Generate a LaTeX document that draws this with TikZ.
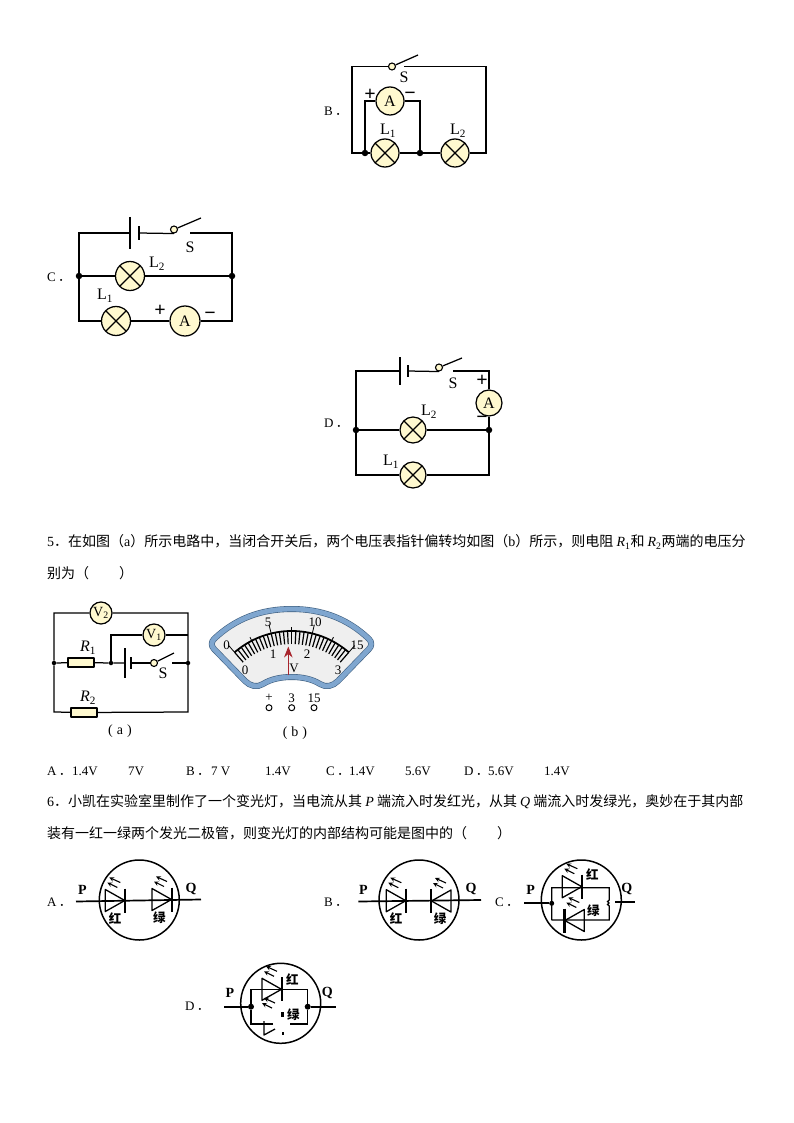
\documentclass[tikz,border=0pt]{standalone}
\usepackage{fontspec}
\setmainfont{Liberation Serif}
\newfontfamily\cjk{Noto Sans CJK SC}
\usetikzlibrary{arrows.meta}
\definecolor{lampfill}{HTML}{FFF9CF}
\definecolor{dialblue}{HTML}{7FA6CF}
\definecolor{dialedge}{HTML}{3F5F80}
\definecolor{dialface}{HTML}{EFEFEF}
\definecolor{pointerred}{HTML}{A8242C}
\newcommand{\resR}[1]{\textrm{\textit{R}\textsubscript{#1}}}
\tikzset{
	wire/.style={line width=1.25pt, line join=miter},
	heavy/.style={line width=1.7pt},
	plate/.style={line width=1.25pt},
	lamp/.style={circle, draw, line width=1.25pt, fill=lampfill, inner sep=0pt, minimum size=#1,
		path picture={\draw[line width=1.25pt] (path picture bounding box.north west)--(path picture bounding box.south east)
			(path picture bounding box.north east)--(path picture bounding box.south west);}},
	lamp/.default=28pt,
	meter/.style={circle, draw, line width=1.25pt, fill=lampfill, inner sep=0pt, minimum size=#1, font=\fontsize{16}{16}\selectfont},
	meter/.default=28pt,
	junc/.style={circle, fill=black, inner sep=0pt, minimum size=#1},
	junc/.default=6.5pt,
	switchdot/.style={circle, draw, line width=1.1pt, fill=lampfill, inner sep=0pt, minimum size=7pt},
	resistor/.style={rectangle, draw, line width=1.1pt, fill=lampfill, inner sep=0pt, minimum width=26pt, minimum height=9pt},
	lbl/.style={inner sep=0pt, font=\fontsize{16}{16}\selectfont},
	sign/.style={inner sep=0pt, font=\bfseries\fontsize{20}{20}\selectfont},
	dialnum/.style={inner sep=0pt, font=\fontsize{13}{13}\selectfont},
	txt/.style={anchor=west, inner sep=0pt, font=\cjk\fontsize{14}{16}\selectfont},
	optxt/.style={anchor=west, inner sep=0pt, font=\fontsize{13}{15}\selectfont},
	hanzi/.style={inner sep=0pt, font=\cjk\bfseries\fontsize{12.5}{12.5}\selectfont},
	bold/.style={inner sep=0pt, font=\bfseries\fontsize{14}{14}\selectfont},
	globe/.style={circle, draw, line width=1.5pt, inner sep=0pt, minimum size=80pt},
	ray/.style={->, >=stealth, line width=1.1pt},
	pics/ledrays/.style={code={
		\draw[ray] (5,-18) -- (-6,-23);
		\draw[ray] (2,-13) -- (-8,-18);
	}},
	pics/led/.style={code={
		\draw[line width=1.3pt] (-10,-11) -- (-10,11) -- (9.5,0) -- cycle;
		\draw[line width=2.2pt] (9.8,-12) -- (9.8,12);
		\pic {ledrays};
	}},
}
\begin{document}
\begin{tikzpicture}[x=1pt, y=-1pt, line join=round]
	\useasboundingbox (0,0) rectangle (794,1123);
	% circuit B
	\node[optxt] (optB) at (324,111) {B\,{\cjk ．}};
	\node[switchdot] (switchB) at (392,66.5) {};
	\coordinate (armB) at (418,55);
	\coordinate (gapB) at (404,66.5);
	\coordinate (cornB1) at (352,66.5);
	\coordinate (cornB2) at (352,153);
	\coordinate (cornB3) at (486,153);
	\coordinate (cornB4) at (486,66.5);
	\node[lamp] (lampB1) at (385,153) {};
	\node[lamp] (lampB2) at (455,153) {};
	\node[meter] (meterB) at (390,101) {A};
	\node[junc] (juncB1) at (365,153) {};
	\node[junc] (juncB2) at (420,153) {};
	\draw[wire] (switchB) -- (cornB1) -- (cornB2) -- (lampB1) -- (juncB2) -- (lampB2) -- (cornB3) -- (cornB4) -- (gapB);
	\draw[wire] (switchB) -- (armB);
	\draw[wire] (juncB1) |- (meterB);
	\draw[wire] (meterB) -| (juncB2);
	\node[lbl] (nameS) at (404,77) {S};
	\node[sign] (plusB) at (370,95) {+};
	\node[sign] (minusB) at (410,96) {\textminus};
	\node[lbl] (nameB1) at (388,131) {L\textsubscript{1}};
	\node[lbl] (nameB2) at (458,131) {L\textsubscript{2}};
	% circuit C
	\node[optxt] (optC) at (47,277) {C\,{\cjk ．}};
	\coordinate (cornC1) at (79,233);
	\coordinate (cornC2) at (79,321);
	\coordinate (cornC3) at (232,321);
	\coordinate (cornC4) at (232,233);
	\coordinate (plateC1) at (130,233);
	\coordinate (plateC2) at (139,233);
	\coordinate (gapC) at (190,233);
	\coordinate (armC) at (201,218);
	\node[switchdot] (switchC) at (174,229.5) {};
	\node[junc] (juncC1) at (79,276) {};
	\node[junc] (juncC2) at (232,276) {};
	\node[lamp=29pt] (lampC2) at (130,276) {};
	\node[lamp=29pt] (lampC1) at (116,321) {};
	\node[meter=30pt] (meterC) at (185,321) {A};
	\draw[wire] (plateC1) -- (cornC1) -- (cornC2) -- (lampC1) -- (meterC) -- (cornC3) -- (cornC4) -- (gapC);
	\draw[wire] (plateC2) -- (switchC.south);
	\draw[wire] (switchC) -- (armC);
	\draw[wire] (juncC1) -- (lampC2) -- (juncC2);
	\draw[plate] (plateC1) ++(0,-16) -- ++(0,32);
	\draw[plate] (plateC2) ++(0,-6.5) -- ++(0,13);
	\node[lbl] (nameSC) at (190,247) {S};
	\node[lbl] (nameC2) at (157,264) {L\textsubscript{2}};
	\node[lbl] (nameC1) at (105,296) {L\textsubscript{1}};
	\node[sign] (plusC) at (160,311) {+};
	\node[sign] (minusC) at (210,316) {\textminus};
	% circuit D
	\node[optxt] (optD) at (324,423) {D\,{\cjk ．}};
	\coordinate (cornD1) at (356,371);
	\coordinate (cornD2) at (356,475);
	\coordinate (cornD3) at (489,475);
	\coordinate (cornD4) at (489,371);
	\coordinate (plateD1) at (400,371);
	\coordinate (plateD2) at (408,371);
	\coordinate (gapD) at (453,371);
	\coordinate (armD) at (462,358);
	\node[switchdot] (switchD) at (439,367.5) {};
	\node[junc] (juncD1) at (356,430) {};
	\node[junc] (juncD2) at (489,430) {};
	\node[lamp=26pt] (lampD2) at (413,430) {};
	\node[lamp=26pt] (lampD1) at (413,475) {};
	\node[meter=26pt] (meterD) at (489,403) {A};
	\draw[wire] (plateD1) -- (cornD1) -- (cornD2) -- (lampD1) -- (cornD3) -- (juncD2) -- (meterD) -- (cornD4) -- (gapD);
	\draw[wire] (plateD2) -- (switchD.south);
	\draw[wire] (switchD) -- (armD);
	\draw[wire] (juncD1) -- (lampD2) -- (juncD2);
	\draw[plate] (plateD1) ++(0,-14) -- ++(0,28);
	\draw[plate] (plateD2) ++(0,-6) -- ++(0,12);
	\node[lbl] (nameSD) at (453,383) {S};
	\node[sign] (plusD) at (482,381) {+};
	\node[sign] (minusD) at (482,420) {\textminus};
	\node[lbl] (nameD2) at (429,412) {L\textsubscript{2}};
	\node[lbl] (nameD1) at (391,462) {L\textsubscript{1}};
	% question 5
	\node[txt] (line5a) at (47,542) {\textrm{5}．在如图（\textrm{a}）所示电路中，当闭合开关后，两个电压表指针偏转均如图（\textrm{b}）所示，则电阻 \resR{1}和 \resR{2}两端的电压分};
	\node[txt] (line5b) at (47,573) {别为（\hspace{30pt}）};
	% circuit a
	\coordinate (cornA1) at (54,613);
	\coordinate (cornA2) at (188,613);
	\coordinate (cornA3) at (188,712);
	\coordinate (cornA4) at (54,712);
	\coordinate (cornA5) at (188,635);
	\coordinate (plateA1) at (125,663);
	\coordinate (plateA2) at (131,663);
	\coordinate (gapA) at (172,663);
	\coordinate (armA) at (174,653);
	\node[junc=4.5pt] (juncA1) at (54,663) {};
	\node[junc=4.5pt] (juncA2) at (111,663) {};
	\node[junc=4.5pt] (juncA3) at (188,663) {};
	\node[switchdot] (switchA) at (154,663) {};
	\node[resistor] (resA1) at (81,662.5) {};
	\node[resistor] (resA2) at (84,712.5) {};
	\node[meter=22pt, font=\fontsize{14}{14}\selectfont] (meterV2) at (101,613) {V\textsubscript{2}};
	\node[meter=22pt, font=\fontsize{14}{14}\selectfont] (meterV1) at (154,635) {V\textsubscript{1}};
	\draw[wire] (juncA1) -- (cornA1) -- (meterV2) -- (cornA2) -- (cornA3) -- (resA2) -- (cornA4) -- (juncA1);
	\draw[wire] (juncA1) -- (resA1) -- (juncA2) -- (plateA1);
	\draw[wire] (plateA2) -- (switchA);
	\draw[wire] (switchA) -- (armA);
	\draw[wire] (gapA) -- (juncA3);
	\draw[wire] (juncA2) |- (meterV1);
	\draw[wire] (meterV1) -- (cornA5);
	\draw[plate] (plateA1) ++(0,-15) -- ++(0,30);
	\draw[plate] (plateA2) ++(0,-6) -- ++(0,12);
	\node[lbl] (nameR1) at (88,648) {\textit{R}\textsubscript{1}};
	\node[lbl] (nameR2) at (88,698) {\textit{R}\textsubscript{2}};
	\node[lbl] (nameSA) at (163,673) {S};
	\node[lbl, font=\fontsize{14}{14}\selectfont] (nameA) at (120,731) {(\hspace{4pt}a\hspace{4pt})};
	% dial b
	\draw[fill=dialface, draw=dialedge, line width=6pt, postaction={draw=dialblue, line width=4.8pt}]
		(214,639) .. controls (236,618) and (262,609) .. (291.7,609) .. controls (321,609) and (347,618) .. (369,639)
		.. controls (372,642) and (372,646) .. (369,649) -- (338,681) .. controls (333,686) and (326,688) .. (320,684)
		.. controls (312,679) and (302,677) .. (291.7,677) .. controls (281,677) and (271,679) .. (263,684)
		.. controls (257,688) and (250,686) .. (245,681) -- (214,649) .. controls (211,646) and (211,642) .. (214,639) -- cycle;
	\begin{scope}[shift={(291.7,718)}]
		\draw[line width=1.8pt] plot[domain=-131:-49, samples=40] (\x:87);
		\foreach \i in {0,...,30} {
			\pgfmathsetmacro{\a}{-131+82*\i/30}
			\draw[line width=1.2pt] (\a:74) -- (\a:87);
		}
		\foreach \i in {0,10,20,30} {
			\pgfmathsetmacro{\a}{-131+82*\i/30}
			\draw[line width=0.8pt] (\a:87) -- (\a:96);
		}
		\foreach \i in {5,15,25} {
			\pgfmathsetmacro{\a}{-131+82*\i/30}
			\draw[line width=0.8pt] (\a:87) -- (\a:91);
		}
	\end{scope}
	\coordinate (pointerBase) at (288.3,675);
	\coordinate (pointerTip) at (288.3,646.5);
	\draw[pointerred, line width=1pt, -{Stealth[length=11pt, width=8.5pt]}] (pointerBase) -- (pointerTip);
	\node[dialnum] (up0) at (226.7,645) {0};
	\node[dialnum] (up5) at (268,622) {5};
	\node[dialnum] (up10) at (315,622) {10};
	\node[dialnum] (up15) at (357,645) {15};
	\node[dialnum] (low0) at (245,670) {0};
	\node[dialnum] (low1) at (273,654) {1};
	\node[dialnum] (low2) at (307,654) {2};
	\node[dialnum] (low3) at (338,670) {3};
	\node[dialnum] (unitV) at (294,668) {V};
	\node[dialnum] (termPlus) at (269,698) {+};
	\node[dialnum] (term3) at (291.7,698) {3};
	\node[dialnum] (term15) at (314,698) {15};
	\draw[line width=1pt] (269,707.7) circle (3);
	\draw[line width=1pt] (291.7,707.7) circle (3);
	\draw[line width=1pt] (314,707.7) circle (3);
	\node[lbl, font=\fontsize{14}{14}\selectfont] (nameB) at (295,733) {(\hspace{4pt}b\hspace{4pt})};
	% options of 5
	\node[optxt] (o5a) at (47,771) {A\,{\cjk ．}};
	\node[optxt] (o5a1) at (72,771) {1.4V};
	\node[optxt] (o5a2) at (128,771) {7V};
	\node[optxt] (o5b) at (186,771) {B\,{\cjk ．}};
	\node[optxt] (o5b1) at (211,771) {7 V};
	\node[optxt] (o5b2) at (265,771) {1.4V};
	\node[optxt] (o5c) at (326,771) {C\,{\cjk ．}};
	\node[optxt] (o5c1) at (349,771) {1.4V};
	\node[optxt] (o5c2) at (405,771) {5.6V};
	\node[optxt] (o5d) at (464,771) {D\,{\cjk ．}};
	\node[optxt] (o5d1) at (488,771) {5.6V};
	\node[optxt] (o5d2) at (544,771) {1.4V};
	% question 6
	\node[txt] (line6a) at (47,802) {\textrm{6}．小凯在实验室里制作了一个变光灯，当电流从其 \textrm{\textit{P}} 端流入时发红光，从其 \textrm{\textit{Q}} 端流入时发绿光，奥妙在于其内部};
	\node[txt] (line6b) at (47,833) {装有一红一绿两个发光二极管，则变光灯的内部结构可能是图中的（\hspace{30pt}）};
	% lights A
	\node[optxt] (optLA) at (47,902) {A\,{\cjk ．}};
	\node[globe] (globeA) at (139.3,900) {};
	\coordinate (wireA1) at (76,901.5);
	\coordinate (wireA2) at (201,899.5);
	\draw[heavy] (wireA1) -- (wireA2);
	\pic at (115.3,900.5) {led};
	\pic at (162,899.5) {led};
	\node[hanzi] (redA) at (115,919) {红};
	\node[hanzi] (greenA) at (159.3,918) {绿};
	\node[bold] (pA) at (82.3,889.5) {P};
	\node[bold] (qA) at (191,888.5) {Q};
	% lights B
	\node[optxt] (optLB) at (324,902) {B\,{\cjk ．}};
	\node[globe] (globeB) at (419,900) {};
	\coordinate (wireB1) at (358.3,901.5);
	\coordinate (wireB2) at (481,900);
	\draw[heavy] (wireB1) -- (wireB2);
	\pic at (396.3,900.7) {led};
	\pic[xscale=-1] at (441,901) {led};
	\node[hanzi] (redB) at (396,919) {红};
	\node[hanzi] (greenB) at (440,918.3) {绿};
	\node[bold] (pB) at (363.3,889.5) {P};
	\node[bold] (qB) at (471,889) {Q};
	% lights C
	\node[optxt] (optLC) at (495,902) {C\,{\cjk ．}};
	\node[globe] (globeC) at (581.3,900) {};
	\coordinate (wireC1) at (524,903.3);
	\coordinate (wireC2) at (615,902.3);
	\coordinate (wireC3) at (635,902.3);
	\coordinate (boxC1) at (551.7,887.7);
	\coordinate (boxC2) at (609.3,887.7);
	\coordinate (boxC3) at (609.3,920);
	\coordinate (boxC4) at (551.7,920);
	\node[junc=5pt] (juncLC) at (551.7,903.3) {};
	\draw[heavy] (wireC1) -- (juncLC);
	\draw[heavy] (wireC2) -- (wireC3);
	\draw[wire] (boxC4) -- (boxC1) -- (boxC2) -- (609.3,900) .. controls (607,901) and (607,902) .. (609,903) .. controls (607,904) and (607,905) .. (609.3,906) -- (boxC3) -- (boxC4);
	\pic at (572.3,886.7) {led};
	\pic[xscale=-1] at (574.3,920.5) {led};
	\node[hanzi] (redC) at (592.3,875) {红};
	\node[hanzi] (greenC) at (593.3,911) {绿};
	\node[bold] (pC) at (530.7,890) {P};
	\node[bold] (qC) at (626.7,889.3) {Q};
	% lights D
	\node[optxt] (optLD) at (185,1006) {D\,{\cjk ．}};
	\node[globe] (globeD) at (280.7,1003.3) {};
	\coordinate (wireD1) at (224.3,1006.7);
	\coordinate (wireD2) at (336,1006.7);
	\node[junc=6pt] (juncD3) at (251,1006.7) {};
	\node[junc=6pt] (juncD4) at (307.7,1006.7) {};
	\coordinate (boxD1) at (251,989.3);
	\coordinate (boxD2) at (307.7,989.3);
	\coordinate (boxD3) at (251,1024);
	\coordinate (boxD4) at (273,1024);
	\coordinate (boxD5) at (290,1024);
	\coordinate (boxD6) at (307.7,1024);
	\draw[heavy] (wireD1) -- (juncD3);
	\draw[heavy] (juncD4) -- (wireD2);
	\draw[wire] (boxD4) -- (boxD3) -- (juncD3) -- (boxD1) -- (boxD2) -- (juncD4) -- (boxD6) -- (boxD5);
	\pic at (272,989.3) {led};
	\pic at (270,1021) {ledrays};
	\draw[line width=1.3pt] (264,1021) -- (264,1035) -- (275,1029);
	\draw[line width=2.2pt] (282.5,1012) -- (282.5,1017);
	\draw[line width=2.2pt] (283,1032) -- (283,1035);
	\node[hanzi] (redD) at (292.3,980) {红};
	\node[hanzi] (greenD) at (293.3,1015) {绿};
	\node[bold] (pD) at (230,993.3) {P};
	\node[bold] (qD) at (327.3,993.3) {Q};
\end{tikzpicture}
\end{document}
